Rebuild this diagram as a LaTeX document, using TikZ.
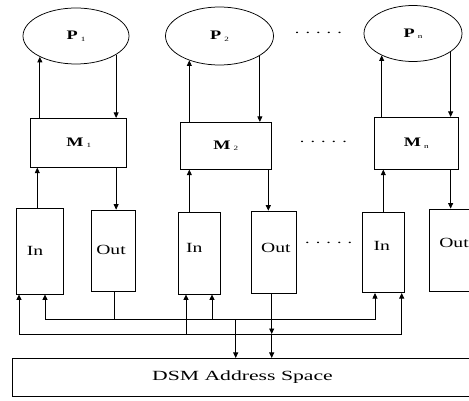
\documentclass[tikz,border=0pt]{standalone}
\usepackage{fontspec}
\usepackage{graphicx}
\setmainfont{Liberation Serif}[FakeStretch=1.4]
\newfontfamily\widefont{Liberation Serif}[FakeStretch=1.55]
\usetikzlibrary{shapes.geometric,arrows.meta,calc}
\newcommand{\sublbl}[2]{\textbf{#1}\hspace{3pt}\raisebox{-1.5pt}{\fontsize{6.5}{6.5}\selectfont #2}}
\begin{document}
\begin{tikzpicture}[x=1pt,y=-1pt,
  proc/.style={draw,ellipse,inner sep=0pt,line width=0.75pt,font=\fontsize{13}{13}\selectfont},
  mem/.style={draw,rectangle,inner sep=0pt,line width=0.75pt,font=\fontsize{13}{13}\selectfont},
  buf/.style={draw,rectangle,inner sep=0pt,line width=0.75pt},
  buftext/.style={font=\fontsize{14}{14}\selectfont},
  dots/.style={inner sep=0pt,font=\fontsize{13}{13}\selectfont},
  arr/.style={-{Triangle[length=5.5pt,width=5pt]},line width=0.75pt},
  ln/.style={line width=0.75pt}]
\clip (0,0) rectangle (469,401);
\fill[white] (0,0) rectangle (469,401);

% processors
\node[proc,minimum width=106pt,minimum height=56pt] (P1) at (76,36) {\sublbl{P}{1}};
\node[proc,minimum width=108pt,minimum height=58pt] (P2) at (219.5,36) {\sublbl{P}{2}};
\node[proc,minimum width=98pt,minimum height=56pt] (Pn) at (413,33.5) {\sublbl{P}{n}};
\node[dots] (d1) at (318.4,33) {. . . . .};

% memories
\node[mem,minimum width=96pt,minimum height=49pt] (M1) at (78.7,142.8) {\sublbl{M}{1}};
\node[mem,minimum width=91.7pt,minimum height=47pt] (M2) at (225.8,145.8) {\sublbl{M}{2}};
\node[mem,minimum width=84.3pt,minimum height=52pt] (Mn) at (416.2,143.3) {\sublbl{M}{n}};
\node[dots] (d2) at (323.4,142.3) {. . . . .};

% buffers
\node[buf,minimum width=46.6pt,minimum height=85.7pt,label={[buftext,xshift=-5pt]center:In}] (In1) at (40,251.2) {};
\node[buf,minimum width=44pt,minimum height=81pt,label={[buftext,xshift=-2.7pt,yshift=1pt]center:Out}] (Out1) at (113.7,250.5) {};
\node[buf,minimum width=41.7pt,minimum height=81.7pt,label={[buftext,xshift=-5pt,yshift=5.5pt]center:In}] (In2) at (199.2,253.2) {};
\node[buf,minimum width=45.7pt,minimum height=82.3pt,label={[buftext,xshift=2pt,yshift=4.5pt]center:Out}] (Out2) at (273.8,252.2) {};
\node[buf,minimum width=41.3pt,minimum height=80.7pt,label={[buftext,xshift=-1.6pt,yshift=6pt]center:In}] (Inn) at (383.3,252.3) {};
\node[buf,minimum width=49.4pt,minimum height=82.7pt,label={[buftext,yshift=7pt]center:Out}] (Outn) at (454,250.3) {};
\node[dots] (d3) at (328.7,243.3) {. . . . .};

% DSM
\node[draw,rectangle,inner sep=0pt,line width=0.75pt,minimum width=459.6pt,minimum height=37.7pt,font=\widefont\fontsize{14}{14}\selectfont] (DSM) at (242.5,377.2) {DSM Address Space};

% P <-> M
\draw[arr] (P1.210 |- M1.north) -- (P1.210);
\draw[arr] (P1.335) -- (P1.335 |- M1.north);
\draw[arr] (P2.219.5 |- M2.north) -- (P2.219.5);
\draw[arr] (P2.334.6) -- (P2.334.6 |- M2.north);
\draw[arr] (Pn.215.4 |- Mn.north) -- (Pn.215.4);
\draw[arr] (Pn.334.6) -- (Pn.334.6 |- Mn.north);

% M <-> buffers
\draw[arr] ([xshift=-2.7pt]In1.north) -- ([xshift=-2.7pt]In1.north |- M1.south);
\draw[arr] (P1.335 |- M1.south) -- (P1.335 |- Out1.north);
\draw[arr] (P2.219.5 |- In2.north) -- (P2.219.5 |- M2.south);
\draw[arr] ([xshift=-5.5pt]Out2.north |- M2.south) -- ([xshift=-5.5pt]Out2.north);
\draw[arr] (Inn.north) -- (Inn.north |- Mn.south);
\draw[arr] (Pn.334.6 |- Mn.south) -- (Pn.334.6 |- Outn.north);

% buses
\coordinate (u1) at (45,319.3);
\coordinate (u2) at (375,319.3);
\coordinate (l1) at (19,334);
\coordinate (l2) at (401.7,334);
\coordinate (ua) at (212,319.3);
\coordinate (la) at (186,334);
\coordinate (ub) at (114,319.3);
\coordinate (dd) at (235.7,319.3);
\coordinate (oo) at (271.7,334);

\draw[arr] (u1) -- (u2) -- (u2 |- Inn.south);
\draw[arr] (l1) -- (l2) -- (l2 |- Inn.south);
\draw[arr] (u1) -- (u1 |- In1.south);
\draw[arr] (l1) -- (l1 |- In1.south);
\draw[arr] (ua) -- (ua |- In2.south);
\draw[arr] (la) -- (la |- In2.south);
\draw[ln] (ub |- Out1.south) -- (ub);
\draw[arr] (dd) -- (dd |- DSM.north);
\draw[arr] (oo |- Out2.south) -- (oo);
\draw[arr] (oo) -- (oo |- DSM.north);
\end{tikzpicture}
\end{document}
